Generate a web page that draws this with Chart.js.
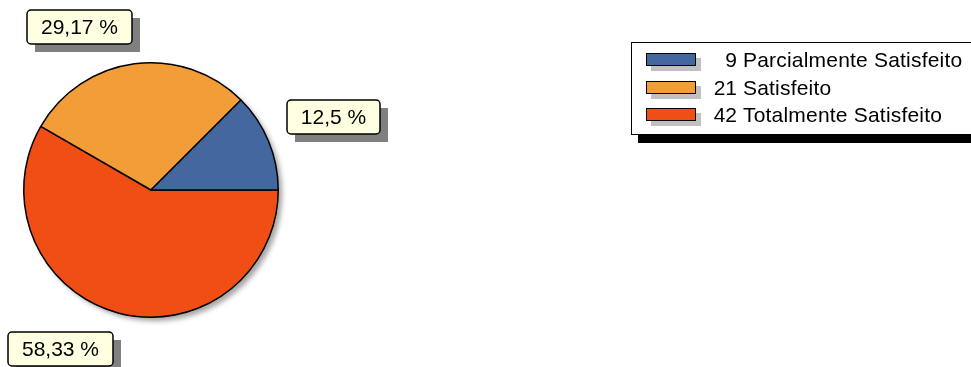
<!DOCTYPE html>
<html lang="pt">
<head>
<meta charset="UTF-8">
<title>Satisfação</title>
<script src="https://cdn.jsdelivr.net/npm/chart.js"></script>
<style>
    body { margin: 0; background: #fff; overflow: hidden; font-family: 'Liberation Sans', Arial, sans-serif; }
    #wrap { position: relative; width: 971px; height: 367px; }
    #legend {
        position: absolute; left: 631px; top: 42px; width: 345px; height: 91px;
        border: 1px solid #000; background: #fff; box-shadow: 7px 8px 0 #000;
    }
    .row { position: absolute; left: 14px; height: 14px; }
    .sw {
        position: absolute; left: 0; top: 0; width: 48px; height: 11px;
        border: 1.5px solid #000; box-shadow: 5px 5px 0 #c0c0c0;
    }
    .num { position: absolute; left: 45px; width: 46px; text-align: right; top: -4px; font-size: 21px; line-height: 21px; }
    .txt { position: absolute; left: 97px; top: -4px; font-size: 21px; line-height: 21px; white-space: nowrap; letter-spacing: 0.2px; }
</style>
</head>
<body>
<div id="wrap">
    <canvas id="pie_chart" width="971" height="367"></canvas>
    <div id="legend"></div>
</div>

<script>
// legend order: Parcialmente, Satisfeito, Totalmente
const categories = ['Parcialmente Satisfeito', 'Satisfeito', 'Totalmente Satisfeito'];
const counts = [9, 21, 42];
const colors = ['#44679F', '#F39D38', '#F14E16'];

const total = counts.reduce((a, b) => a + b, 0);
const fmt = v => (Math.round(v * 100) / 100).toString().replace('.', ',');

// legend
const legend = document.getElementById('legend');
const rowTops = [10, 38, 65];
categories.forEach((c, i) => {
    const row = document.createElement('div');
    row.className = 'row';
    row.style.top = rowTops[i] + 'px';
    row.innerHTML = `<div class="sw" style="background:${colors[i]}"></div>
        <span class="num">${counts[i]}</span><span class="txt">${c}</span>`;
    legend.appendChild(row);
});

// white disc with soft shadow under the pie
const pieShadow = {
    id: 'pieShadow',
    beforeDatasetsDraw(chart) {
        const a = chart.getDatasetMeta(0).data[0];
        const ctx = chart.ctx;
        ctx.save();
        ctx.shadowColor = 'rgba(0,0,0,0.35)';
        ctx.shadowBlur = 5;
        ctx.shadowOffsetX = 4;
        ctx.shadowOffsetY = 4;
        ctx.beginPath();
        ctx.arc(a.x, a.y, a.outerRadius, 0, Math.PI * 2);
        ctx.fillStyle = '#fff';
        ctx.fill();
        ctx.restore();
    }
};

// percentage marks, corner pinned 20px out from the slice middle
const markLabels = {
    id: 'markLabels',
    afterDatasetsDraw(chart) {
        const ctx = chart.ctx;
        const ds = chart.data.datasets[0];
        ctx.save();
        ctx.font = '21px "Liberation Sans", Arial, sans-serif';
        chart.getDatasetMeta(0).data.forEach((arc, i) => {
            const p = arc.getProps(['x', 'y', 'startAngle', 'endAngle', 'outerRadius'], true);
            const mid = (p.startAngle + p.endAngle) / 2;
            const px = p.x + Math.cos(mid) * (p.outerRadius + 20);
            const py = p.y + Math.sin(mid) * (p.outerRadius + 20);
            const txt = fmt(ds.data[i] / total * 100) + ' %';
            const w = Math.round(ctx.measureText(txt).width + 28), h = 34;
            const left = Math.round(Math.cos(mid) >= 0 ? px : px - w);
            const top = Math.round(Math.sin(mid) >= 0 ? py : py - h);
            ctx.fillStyle = '#808080';
            ctx.fillRect(left + 8, top + 8, w, h);
            ctx.beginPath();
            ctx.roundRect(left, top, w, h, 4);
            ctx.fillStyle = '#FFFFE1';
            ctx.fill();
            ctx.lineWidth = 1.5;
            ctx.strokeStyle = '#000';
            ctx.stroke();
            ctx.fillStyle = '#000';
            ctx.textAlign = 'center';
            ctx.textBaseline = 'middle';
            ctx.fillText(txt, left + w / 2, top + h / 2 + 1);
        });
        ctx.restore();
    }
};

// slices run clockwise in Chart.js, the reference runs them the other way
new Chart(document.getElementById('pie_chart'), {
    type: 'pie',
    data: {
        labels: categories.slice().reverse(),
        datasets: [{
            data: counts.slice().reverse(),
            backgroundColor: colors.slice().reverse(),
            borderColor: '#000',
            borderWidth: 1.5,
            hoverOffset: 0
        }]
    },
    options: {
        responsive: false,
        animation: false,
        events: [],
        rotation: 90,
        layout: { padding: { left: 23, top: 62, right: 692, bottom: 49 } },
        plugins: { legend: { display: false }, tooltip: { enabled: false } }
    },
    plugins: [pieShadow, markLabels]
});
</script>
</body>
</html>
